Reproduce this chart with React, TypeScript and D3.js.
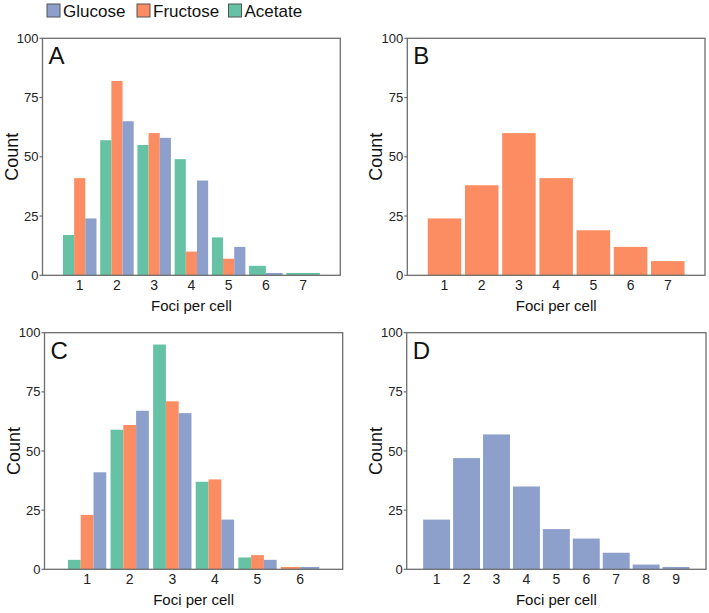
import React from "react";
import * as d3 from "d3";

// ---- Data ----
const seriesOrder = ["Acetate", "Fructose", "Glucose"]; // dodge order
const legendOrder = ["Glucose", "Fructose", "Acetate"];
const colors: Record<string, string> = {
  Glucose: "#8DA0CB",
  Fructose: "#FC8D62",
  Acetate: "#66C2A5",
};
const yTicks = [0, 25, 50, 75, 100];

const aFoci = [1, 2, 3, 4, 5, 6, 7];
const aAcetate = [17, 57, 55, 49, 16, 4, 1];
const aFructose = [41, 82, 60, 10, 7, null, null];
const aGlucose = [24, 65, 58, 40, 12, 1, null];

const bFoci = [1, 2, 3, 4, 5, 6, 7];
const bFructose = [24, 38, 60, 41, 19, 12, 6];

const cFoci = [1, 2, 3, 4, 5, 6];
const cAcetate = [4, 59, 95, 37, 5, null];
const cFructose = [23, 61, 71, 38, 6, 1];
const cGlucose = [41, 67, 66, 21, 4, 1];

const dFoci = [1, 2, 3, 4, 5, 6, 7, 8, 9];
const dGlucose = [21, 47, 57, 35, 17, 13, 7, 2, 1];

const FONT = "'Liberation Sans', Arial, Helvetica, sans-serif";

type Series = { name: string; values: (number | null)[] };

function Panel(props: {
  letter: string;
  box: { x0: number; x1: number; y0: number; y1: number };
  xMax: number;
  foci: number[];
  series: Series[];
}) {
  const { letter, box, xMax, foci, series } = props;
  const x = d3.scaleLinear().domain([0, xMax]).range([box.x0, box.x1]);
  const y = d3.scaleLinear().domain([0, 100]).range([box.y1, box.y0]);
  const groupW = 0.9;
  const bars: React.ReactNode[] = [];
  foci.forEach((f, i) => {
    const present = series.filter((s) => s.values[i] !== null && s.values[i] !== undefined);
    const n = present.length;
    const w = groupW / n;
    present.forEach((s, j) => {
      const v = s.values[i] as number;
      const xs = f - groupW / 2 + j * w;
      bars.push(
        <rect
          key={`${f}-${s.name}`}
          x={x(xs)}
          width={x(xs + w) - x(xs)}
          y={y(v)}
          height={y(0) - y(v)}
          fill={colors[s.name]}
        />
      );
    });
  });
  const cx = (box.x0 + box.x1) / 2;
  const cy = (box.y0 + box.y1) / 2;
  return (
    <g>
      {bars}
      <rect
        x={box.x0}
        y={box.y0}
        width={box.x1 - box.x0}
        height={box.y1 - box.y0}
        fill="none"
        stroke="#6e6e6e"
        strokeWidth={1.3}
      />
      {yTicks.map((t) => (
        <g key={t}>
          <line x1={box.x0 - 3} x2={box.x0} y1={y(t)} y2={y(t)} stroke="#6e6e6e" strokeWidth={1.2} />
          <text
            x={box.x0 - 4}
            y={y(t)}
            dy="0.35em"
            textAnchor="end"
            fontSize={13}
            fill="#222"
            fontFamily={FONT}
          >
            {t}
          </text>
        </g>
      ))}
      {foci.map((f) => (
        <text
          key={f}
          x={x(f)}
          y={box.y1 + 14.5}
          textAnchor="middle"
          fontSize={14}
          fill="#222"
          fontFamily={FONT}
        >
          {f}
        </text>
      ))}
      <text
        x={cx}
        y={box.y1 + 36}
        textAnchor="middle"
        fontSize={15}
        fill="#111"
        fontFamily={FONT}
      >
        Foci per cell
      </text>
      <text
        transform={`translate(${box.x0 - 25},${cy}) rotate(-90)`}
        textAnchor="middle"
        fontSize={18}
        fill="#111"
        fontFamily={FONT}
      >
        Count
      </text>
      <text
        x={box.x0 + 6}
        y={box.y0 + 26}
        fontSize={24}
        fill="#111"
        fontFamily={FONT}
      >
        {letter}
      </text>
    </g>
  );
}

export default function App() {
  const legendX = [47, 137, 228.5];
  return (
    <svg
      width={709}
      height={613}
      style={{ position: "absolute", left: 0, top: 0, background: "#fff" }}
    >
      <rect width={709} height={613} fill="#fff" />
      {legendOrder.map((name, i) => (
        <g key={name}>
          <rect
            x={legendX[i]}
            y={4}
            width={13}
            height={13}
            fill={colors[name]}
            stroke="#555"
            strokeWidth={1}
          />
          <text x={legendX[i] + 16} y={16.5} fontSize={17} fill="#111" fontFamily={FONT}>
            {name}
          </text>
        </g>
      ))}
      <Panel
        letter="A"
        box={{ x0: 42.5, x1: 340.3, y0: 38.3, y1: 275.3 }}
        xMax={8}
        foci={aFoci}
        series={[
          { name: seriesOrder[0], values: aAcetate },
          { name: seriesOrder[1], values: aFructose },
          { name: seriesOrder[2], values: aGlucose },
        ]}
      />
      <Panel
        letter="B"
        box={{ x0: 407.3, x1: 705, y0: 38.3, y1: 275.3 }}
        xMax={8}
        foci={bFoci}
        series={[{ name: "Fructose", values: bFructose }]}
      />
      <Panel
        letter="C"
        box={{ x0: 44.5, x1: 342.7, y0: 332.7, y1: 569.3 }}
        xMax={7}
        foci={cFoci}
        series={[
          { name: seriesOrder[0], values: cAcetate },
          { name: seriesOrder[1], values: cFructose },
          { name: seriesOrder[2], values: cGlucose },
        ]}
      />
      <Panel
        letter="D"
        box={{ x0: 406.7, x1: 706, y0: 332.7, y1: 569.3 }}
        xMax={10}
        foci={dFoci}
        series={[{ name: "Glucose", values: dGlucose }]}
      />
    </svg>
  );
}
